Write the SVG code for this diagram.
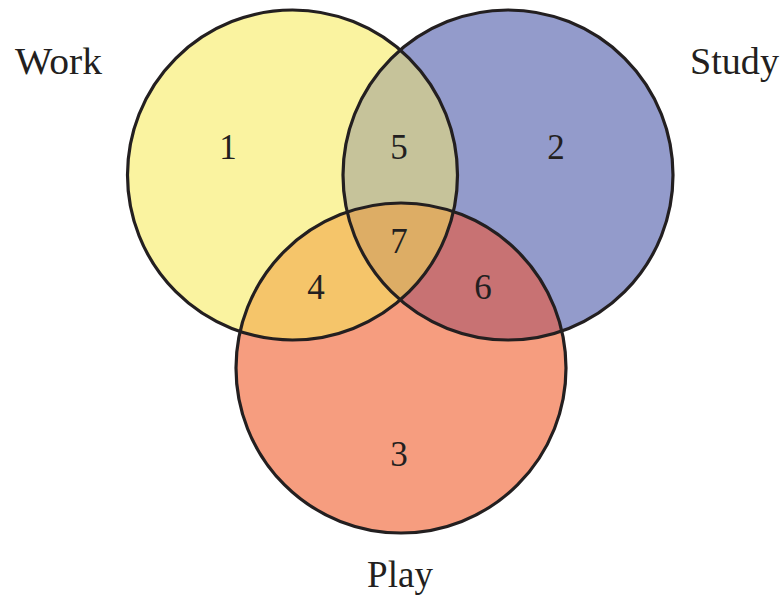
<svg xmlns="http://www.w3.org/2000/svg" width="783" height="596" viewBox="0 0 783 596">
<style>
.lbl{font-family:"Liberation Serif","DejaVu Serif",serif;font-size:37px;fill:#231f20}
.num{font-family:"Liberation Serif","DejaVu Serif",serif;font-size:35px;fill:#231f20;text-anchor:middle}
.ring{fill:none;stroke:#231f20;stroke-width:3.2}
</style>
<defs>
<circle id="cw" cx="292.5" cy="175" r="165"/>
<circle id="cs" cx="508" cy="175" r="165"/>
<circle id="cp" cx="401" cy="368" r="165"/>
<clipPath id="clipW"><use href="#cw"/></clipPath>
<clipPath id="clipS"><use href="#cs"/></clipPath>
<clipPath id="clipWS" clip-path="url(#clipW)"><use href="#cs"/></clipPath>
</defs>
<rect width="783" height="596" fill="#ffffff"/>
<g id="work"><use href="#cw" fill="#FAF3A0"/></g>
<g id="study"><use href="#cs" fill="#939BCB"/></g>
<g id="play"><use href="#cp" fill="#F69D7F"/></g>
<g id="overlaps">
<use href="#cs" fill="#C6C39A" clip-path="url(#clipW)"/>
<use href="#cp" fill="#F5C56A" clip-path="url(#clipW)"/>
<use href="#cp" fill="#C87273" clip-path="url(#clipS)"/>
<use href="#cp" fill="#DDAD65" clip-path="url(#clipWS)"/>
</g>
<g id="outlines">
<use href="#cw" class="ring"/>
<use href="#cs" class="ring"/>
<use href="#cp" class="ring"/>
</g>
<g id="labels">
<text class="lbl" x="15" y="74" textLength="87" lengthAdjust="spacingAndGlyphs">Work</text>
<text class="lbl" x="690" y="74" textLength="89" lengthAdjust="spacingAndGlyphs">Study</text>
<text class="lbl" x="400" y="587" text-anchor="middle">Play</text>
</g>
<g id="numbers">
<text class="num" x="228" y="159">1</text>
<text class="num" x="556" y="159">2</text>
<text class="num" x="399" y="466">3</text>
<text class="num" x="316" y="299">4</text>
<text class="num" x="399" y="159">5</text>
<text class="num" x="483" y="299">6</text>
<text class="num" x="399" y="253">7</text>
</g>
</svg>
